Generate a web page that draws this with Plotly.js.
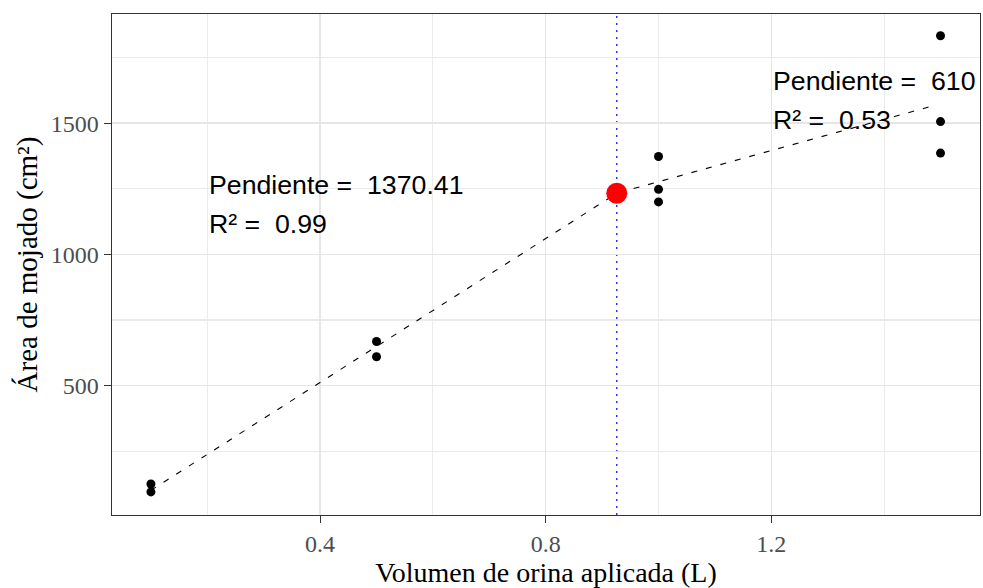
<!DOCTYPE html>
<html>
<head>
<meta charset="utf-8">
<script src="https://cdn.plot.ly/plotly-3.0.1.min.js"></script>
<style>html,body{margin:0;padding:0;background:#fff;}#chart{width:983px;height:588px;}</style>
</head>
<body>
<div id="chart"></div>
<script>
// Observed data
var volX = [0.1, 0.1, 0.5, 0.5, 1.0, 1.0, 1.0, 1.5, 1.5, 1.5];
var areaY = [125, 95, 668, 610, 1373, 1248, 1200, 1833, 1506, 1386];
// Segmented fit line
var fitX = [0.1, 0.926, 1.49];
var fitY = [101, 1233, 1568];
// Breakpoint
var bpX = [0.926];
var bpY = [1233];
// Annotation labels
var labelLeft = ["Pendiente =  1370.41", "R² =  0.99"];
var labelRight = ["Pendiente =  610", "R² =  0.53"];
var xTickVals = [0.4, 0.8, 1.2];
var yTickVals = [500, 1000, 1500];

var traces = [
  {x: fitX, y: fitY, mode: 'lines', type: 'scatter',
   line: {color: '#000', width: 1.1, dash: '6px,9px'}, hoverinfo: 'skip'},
  {x: volX, y: areaY, mode: 'markers', type: 'scatter',
   marker: {color: '#000', size: 9}},
  {x: bpX, y: bpY, mode: 'markers', type: 'scatter',
   marker: {color: '#ff0000', size: 21}}
];

var serif = 'Liberation Serif, Times New Roman, serif';
var sans = 'Liberation Sans, Arial, sans-serif';

var layout = {
  width: 983, height: 588,
  margin: {l: 112, r: 3, t: 14, b: 73},
  paper_bgcolor: '#fff', plot_bgcolor: '#fff',
  showlegend: false,
  xaxis: {
    range: [0.031, 1.570],
    tickvals: xTickVals, ticktext: ['0.4', '0.8', '1.2'],
    showgrid: true, gridcolor: '#e6e6e6', gridwidth: 1.5,
    minor: {tickvals: [0.2, 0.6, 1.0, 1.4], showgrid: true, gridcolor: '#ebebeb', gridwidth: 1.1, ticks: ''},
    zeroline: false,
    showline: true, mirror: true, linecolor: '#333', linewidth: 1.4,
    ticks: 'outside', ticklen: 7, tickcolor: '#333', tickwidth: 1,
    tickfont: {family: serif, size: 24, color: '#4d4d4d'},
    title: {text: 'Volumen de orina aplicada (L)', font: {family: serif, size: 28, color: '#000'}, standoff: 4}
  },
  yaxis: {
    range: [7, 1916],
    tickvals: yTickVals, ticktext: ['500', '1000', '1500'],
    showgrid: true, gridcolor: '#e6e6e6', gridwidth: 1.5,
    minor: {tickvals: [250, 750, 1250, 1750], showgrid: true, gridcolor: '#ebebeb', gridwidth: 1.1, ticks: ''},
    zeroline: false,
    showline: true, mirror: true, linecolor: '#333', linewidth: 1.4,
    ticks: 'outside', ticklen: 7, tickcolor: '#333', tickwidth: 1,
    tickfont: {family: serif, size: 24, color: '#4d4d4d'},
    title: {text: 'Área de mojado (cm²)', font: {family: serif, size: 29, color: '#000'}, standoff: 4}
  },
  shapes: [
    {type: 'line', xref: 'x', yref: 'paper', x0: bpX[0], x1: bpX[0], y0: 0, y1: 1,
     line: {color: '#0000ff', width: 1.2, dash: '2px,5px'}, layer: 'below'}
  ],
  annotations: [
    {x: 0.2, y: 1265, xref: 'x', yref: 'y', text: labelLeft[0], showarrow: false, xanchor: 'left', yanchor: 'middle', font: {family: sans, size: 26.7, color: '#000'}},
    {x: 0.2, y: 1116, xref: 'x', yref: 'y', text: labelLeft[1], showarrow: false, xanchor: 'left', yanchor: 'middle', font: {family: sans, size: 26.7, color: '#000'}},
    {x: 1.2, y: 1661, xref: 'x', yref: 'y', text: labelRight[0], showarrow: false, xanchor: 'left', yanchor: 'middle', font: {family: sans, size: 26.7, color: '#000'}},
    {x: 1.2, y: 1513, xref: 'x', yref: 'y', text: labelRight[1], showarrow: false, xanchor: 'left', yanchor: 'middle', font: {family: sans, size: 26.7, color: '#000'}}
  ]
};

Plotly.newPlot('chart', traces, layout, {staticPlot: true, displayModeBar: false});
</script>
</body>
</html>
